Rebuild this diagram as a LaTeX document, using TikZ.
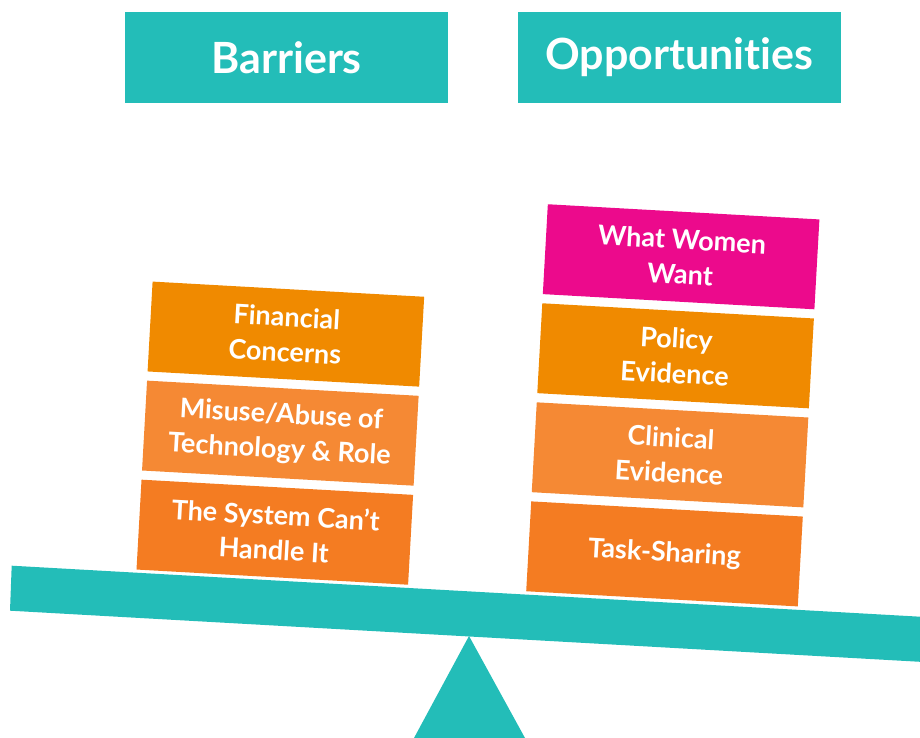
\documentclass[tikz,border=0pt]{standalone}
\usepackage{fontspec}
\setmainfont{Lato}[Ligatures={TeX,NoCommon}]
\usepackage{xcolor}

\definecolor{balteal}{RGB}{35,189,184}
\definecolor{orangeA}{RGB}{240,138,0}
\definecolor{orangeB}{RGB}{245,137,52}
\definecolor{orangeC}{RGB}{244,124,34}
\definecolor{wwwpink}{RGB}{236,10,140}

\tikzset{
  heading/.style={fill=balteal,text=white,minimum width=323pt,minimum height=91pt,
    inner sep=0pt,font=\fontsize{43}{50}\selectfont\bfseries},
  block/.style={minimum width=272pt,minimum height=90pt,inner sep=0pt,align=center,
    text=white,transform shape,font=\fontsize{27}{35}\selectfont\bfseries},
}

\begin{document}
\begin{tikzpicture}[x=1pt,y=1pt]
    \useasboundingbox (0,0) rectangle (920,738);

    \node[heading] (barriers) at (286.5,680.5) {Barriers};
    \node[heading] (opps) at (679.5,680.5) {Opportunities};

    % see-saw: tilted plank and pivot
    \fill[balteal] (10,127.3) -- (11.7,172.3) -- (920,121.3) -- (920,76.2) -- cycle;
    \fill[balteal] (414,0) -- (469,102) -- (525,0) -- cycle;

    % left pile
    \begin{scope}[shift={(274.8,205.8)},rotate=-3.2]
        \node[block,fill=orangeC] (system) at (0,0) {The System Can't\\Handle It};
        \node[block,fill=orangeB] (misuse) at (0,99.2) {Misuse/Abuse of\\Technology \& Role};
        \node[block,fill=orangeA] (finance) at (0,198.4) {Financial\\Concerns};
    \end{scope}

    % right pile
    \begin{scope}[shift={(664.5,184.1)},rotate=-3.2]
        \node[block,fill=orangeC] (tasks) at (0,0) {Task-Sharing};
        \node[block,fill=orangeB] (clinical) at (0,99.2) {Clinical\\Evidence};
        \node[block,fill=orangeA] (policy) at (0,198.4) {Policy\\Evidence};
        \node[block,fill=wwwpink] (women) at (0,297.6) {What Women\\Want};
    \end{scope}
\end{tikzpicture}
\end{document}
